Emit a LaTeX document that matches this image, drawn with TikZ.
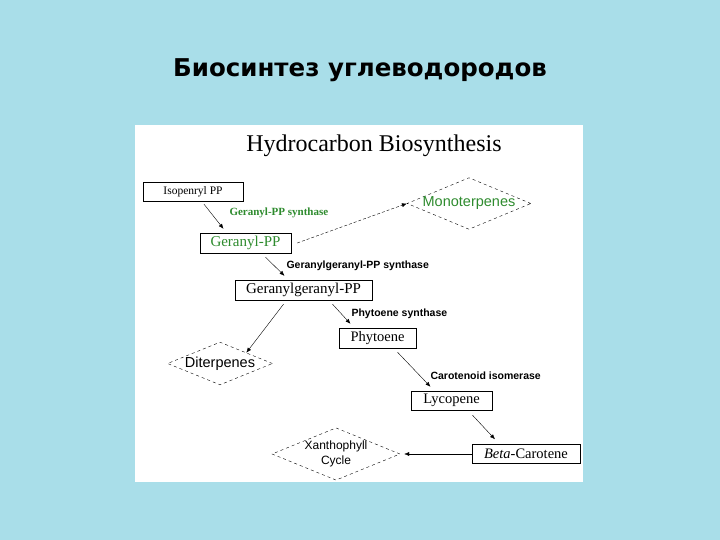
\documentclass[tikz,border=0pt]{standalone}
\usepackage{fontspec}
\setmainfont{Liberation Serif}
\setsansfont{Liberation Sans}
\newfontfamily\titlefont{DejaVu Sans}
\usetikzlibrary{shapes.geometric,arrows.meta}
\definecolor{bgc}{HTML}{A9DEE9}
\definecolor{grn}{HTML}{2E8B2E}
\begin{document}
\begin{tikzpicture}[x=1pt,y=-1pt,
  box/.style={draw,thin,fill=white,inner sep=0pt,font=\fontsize{14.5}{14.5}\selectfont},
  dia/.style={diamond,draw,dashed,inner sep=0pt,aspect=2.4,font=\sffamily\fontsize{14.5}{15}\selectfont,align=center},
  enz/.style={anchor=west,font=\sffamily\bfseries\fontsize{10.5}{11}\selectfont},
  arr/.style={-{Latex[length=5pt,width=4pt]},thin}]
\fill[bgc] (0,0) rectangle (720,540);
\useasboundingbox (0,0) rectangle (720,540);
\fill[white] (135,125) rectangle (583,482);
\node[font=\titlefont\bfseries\fontsize{24.5}{26}\selectfont] (t) at (360,70) {Биосинтез углеводородов};
\node[font=\fontsize{24}{25}\selectfont] (h) at (374,146) {Hydrocarbon Biosynthesis};
\node[box,minimum width=100pt,minimum height=19pt,font=\fontsize{11.5}{11.5}\selectfont] (iso) at (193,191.5) {Isopenryl PP};
\node[box,minimum width=91pt,minimum height=20pt,text=grn,font=\fontsize{15}{15}\selectfont] (ger) at (245.5,243) {Geranyl-PP};
\node[box,minimum width=137pt,minimum height=20pt,font=\fontsize{15}{15}\selectfont] (gg) at (303.5,290) {Geranylgeranyl-PP};
\node[box,minimum width=77pt,minimum height=20pt] (phy) at (377.5,338) {Phytoene};
\node[box,minimum width=81pt,minimum height=19pt] (lyc) at (451.5,400.5) {Lycopene};
\node[box,minimum width=108pt,minimum height=19pt] (bc) at (526,454) {\textit{Beta}-Carotene};
\node[dia,text=grn,minimum width=118pt,minimum height=51pt,font=\sffamily\fontsize{14.5}{15}\selectfont] (mono) at (469,203.5) {Monoterpenes};
\node[dia,minimum width=105pt,minimum height=39pt] (dit) at (220,363.5) {Diterpenes};
\node[dia,minimum width=128pt,minimum height=40pt,font=\sffamily\fontsize{12}{15}\selectfont] (xan) at (336,454) {Xanthophyll\\Cycle};
\node[enz,text=grn,font=\bfseries\fontsize{11}{11}\selectfont] (e1) at (226,213) {Geranyl-PP synthase};
\node[enz] (e2) at (283,265.5) {Geranylgeranyl-PP synthase};
\node[enz] (e3) at (348,313.5) {Phytoene synthase};
\node[enz] (e4) at (427,375.5) {Carotenoid isomerase};
\draw[arr] ([xshift=11pt,yshift=-3pt]iso.south) -- ([xshift=-22pt,yshift=4pt]ger.north);
\draw[arr,densely dashed] ([xshift=6pt]ger.east) -- (mono.west);
\draw[arr] ([xshift=20pt,yshift=-4pt]ger.south) -- ([xshift=-19pt,yshift=4pt]gg.north);
\draw[arr] ([xshift=-20pt,yshift=-4pt]gg.south) -- (dit.north east);
\draw[arr] ([xshift=29pt,yshift=-4pt]gg.south) -- ([xshift=-27pt,yshift=4pt]phy.north);
\draw[arr] ([xshift=20pt,yshift=-4pt]phy.south) -- ([xshift=-21pt,yshift=4pt]lyc.north);
\draw[arr] ([xshift=21pt,yshift=-5pt]lyc.south) -- ([xshift=-31pt,yshift=5pt]bc.north);
\draw[arr] (bc.west) -- ([xshift=4pt]xan.east);
\end{tikzpicture}
\end{document}
